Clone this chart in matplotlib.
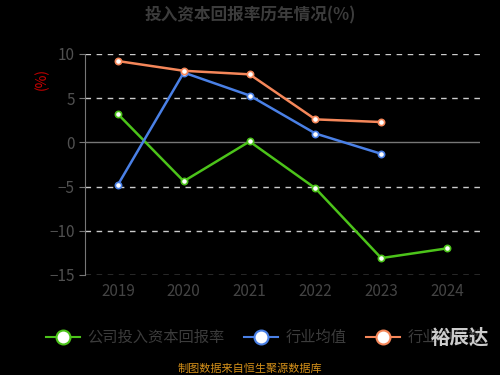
import matplotlib
matplotlib.use("Agg")
import matplotlib.pyplot as plt
from matplotlib.lines import Line2D

plt.rcParams['font.family'] = ['Noto Sans CJK SC', 'DejaVu Sans']

years = ['2019', '2020', '2021', '2022', '2023', '2024']
company = [3.2, -4.4, 0.1, -5.2, -13.1, -12.0]
industryMean = [-4.8, 7.9, 5.3, 1.0, -1.3]
industryMedian = [9.2, 8.1, 7.7, 2.6, 2.3]

seriesNames = ['公司投入资本回报率', '行业均值', '行业中位数']
colors = ['#4cc31a', '#4a80e6', '#f5875a']

fig = plt.figure(figsize=(5, 3.75), dpi=100, facecolor='black')
ax = fig.add_axes([0.17, 0.267, 0.79, 0.589])
ax.set_facecolor('black')

xs = list(range(len(years)))
for vals, color in zip([company, industryMean, industryMedian], colors):
    ax.plot(xs[:len(vals)], vals, color=color, lw=1.8, marker='o', ms=4.5,
            markerfacecolor='white', markeredgecolor=color, markeredgewidth=1.2, zorder=3)

ax.set_xlim(-0.5, 5.5)
ax.set_ylim(-15, 10)
ax.set_yticks([10, 5, 0, -5, -10, -15])
ax.set_xticks(xs)
ax.set_xticklabels(years)
for y in [10, 5, -5, -10, -15]:
    ax.axhline(y, color='#cccccc', lw=1, ls=(0, (4, 4)), zorder=1)
ax.axhline(0, color='#777777', lw=1, zorder=1)

for s in ['top', 'right', 'bottom']:
    ax.spines[s].set_visible(False)
ax.spines['left'].set_color('#777777')
ax.tick_params(axis='y', colors='#777777', labelcolor='#505050', labelsize=11, length=4)
ax.tick_params(axis='x', length=0, labelcolor='#444444', labelsize=11, pad=6)

fig.text(0.084, 0.79, '(%)', color='#cc0000', fontsize=10, rotation=90, ha='center', va='center')
fig.text(0.5, 0.96, '投入资本回报率历年情况(%)', color='#3c3c3c', fontsize=12,
         fontweight='bold', ha='center', va='center')

handles = [Line2D([0], [0], color=c, lw=1.5, marker='o', ms=10, markerfacecolor='white',
                  markeredgecolor=c, markeredgewidth=1.5) for c in colors]
fig.legend(handles, seriesNames, loc='center', bbox_to_anchor=(0.53, 0.1), ncol=3,
           frameon=False, labelcolor='#3c3c3c', fontsize=11, handlelength=2.2,
           columnspacing=1.3, handletextpad=0.5)

fig.text(0.92, 0.1, '裕辰达', color='#cccccc', fontsize=14, fontweight='bold',
         ha='center', va='center', zorder=10)
fig.text(0.5, 0.018, '制图数据来自恒生聚源数据库', color='#d4901a', fontsize=8,
         ha='center', va='center')

fig.savefig('out.png', dpi=100, facecolor='black')
